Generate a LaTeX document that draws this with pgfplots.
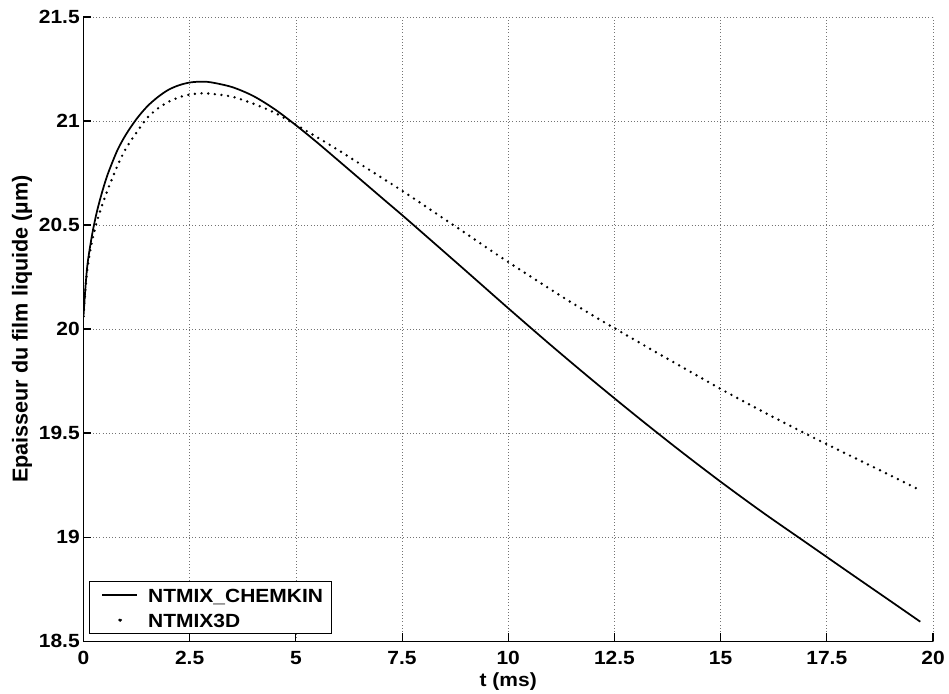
\documentclass[border=0pt]{standalone}
\usepackage{pgfplots}
\pgfplotsset{compat=1.18}
\usepackage{fontspec}
\setmainfont[FakeStretch=1.1]{Liberation Sans}
\newfontfamily\ylfont{Liberation Sans}
\begin{document}
\begin{tikzpicture}
\begin{axis}[
  scale only axis,
  width=637.1pt, height=468pt,
  xmin=0, xmax=20, ymin=18.5, ymax=21.5,
  xtick={0,2.5,5,7.5,10,12.5,15,17.5,20},
  ytick={18.5,19,19.5,20,20.5,21,21.5},
  axis x line=bottom, axis y line=left,
  axis line style={-, line width=0.8pt},
  tick align=inside,
  major tick length=6pt,
  tick style={line width=0.8pt, black},
  grid=major,
  major grid style={dotted, line width=0.5pt, black!55},
  /pgf/number format/assume math mode=true,
  ticklabel style={font=\fontsize{14.3}{16}\selectfont\bfseries},
  xticklabel style={anchor=base, inner sep=0pt, yshift=-17.25pt},
  yticklabel style={anchor=east, inner sep=0pt, xshift=-2.6pt},
  xlabel={t (ms)},
  xlabel style={font=\fontsize{14.3}{16}\selectfont\bfseries, at={(axis description cs:0.5,-0.0721)}, anchor=base, inner sep=0pt},
  ylabel={Epaisseur du film liquide (µm)},
  ylabel style={font=\ylfont\fontsize{16.2}{18}\selectfont\bfseries, at={(axis description cs:-0.0724,0.5)}, anchor=center, rotate=0, inner sep=0pt},
  legend cell align=left,
  legend style={at={(axis description cs:0.00683,0.01122)}, anchor=south west,
    draw=black, line width=0.8pt, fill=white,
    font=\fontsize{14.3}{16}\selectfont\bfseries,
    inner xsep=0pt, inner ysep=1pt, row sep=0.76pt,
    nodes={inner xsep=0pt, inner ysep=0pt, text height=14.74pt, text depth=3.5pt}},
]
\addplot[black, line width=1.3pt, line join=round, smooth,
  legend image code/.code={\draw[black, line width=1.3pt, solid] (0pt,0pt) -- (26pt,0pt); \path[draw=none, fill=none] (-9.3pt,0pt) -- (34.5pt,0pt);}]
coordinates {
(0,20.06) (0.05,20.21) (0.1,20.32) (0.2,20.45) (0.3,20.55) (0.4,20.63)
(0.5,20.70) (0.6,20.76) (0.8,20.86) (1.0,20.935) (1.25,21.01) (1.5,21.07)
(1.75,21.115) (2.0,21.15) (2.25,21.172) (2.5,21.185) (2.75,21.189) (3.0,21.186)
(3.5,21.163) (4.0,21.12) (4.5,21.057) (5.0,20.98) (5.5,20.897) (6.0,20.81)
(7.0,20.635) (7.5,20.548) (8.0,20.459) (9.0,20.28) (10.0,20.10) (11.0,19.923)
(12.0,19.751) (13.0,19.584) (14.0,19.422) (15.0,19.266) (16.0,19.117)
(17.0,18.975) (18.0,18.833) (19.0,18.692) (19.7,18.593)
};
\addlegendentry{NTMIX\_CHEMKIN\hspace*{6.5pt}}
\addplot[black, line width=2pt, line cap=round, dash pattern=on 0pt off 5pt, smooth,
  legend image code/.code={\fill[black] (13pt,0pt) circle (1pt); \path[draw=none, fill=none] (-9.3pt,0pt) -- (34.5pt,0pt);}]
coordinates {
(0,20.06) (0.05,20.2) (0.1,20.30) (0.2,20.42) (0.3,20.505) (0.4,20.572)
(0.5,20.63) (0.6,20.685) (0.8,20.785) (1.0,20.868) (1.25,20.945) (1.5,21.015)
(1.75,21.06) (2.0,21.092) (2.25,21.114) (2.5,21.127) (2.75,21.133) (3.0,21.131)
(3.5,21.117) (4.0,21.083) (4.5,21.04) (5.0,20.982) (5.5,20.922) (6.0,20.86)
(7.0,20.73) (7.5,20.665) (8.0,20.597) (8.5,20.528) (9.0,20.46) (9.5,20.39)
(10.0,20.322) (10.5,20.256) (11.0,20.19) (11.5,20.126) (12.0,20.064) (12.5,20.004)
(13.0,19.945) (13.5,19.886) (14.0,19.828) (14.5,19.77) (15.0,19.712) (16.0,19.602)
(17.0,19.497) (17.5,19.446) (18.0,19.396) (19.0,19.296) (19.7,19.225)
};
\addlegendentry{NTMIX3D}
\end{axis}
\pgfresetboundingbox
\path[use as bounding box] ([xshift=-62.6pt,yshift=-39pt]current axis.south west) rectangle ([xshift=12pt,yshift=12.75pt]current axis.north east);
\end{tikzpicture}
\end{document}
